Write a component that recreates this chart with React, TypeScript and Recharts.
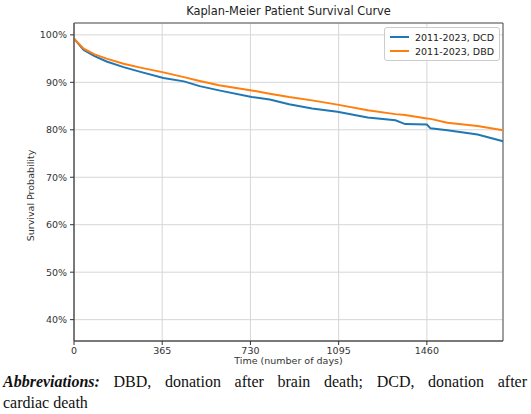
import { CartesianGrid, Line, LineChart, ReferenceArea, XAxis, YAxis } from "recharts";

// days since transplant
const days = [0, 40, 85, 135, 205, 275, 370, 455, 520, 600, 735, 810, 890, 985, 1090, 1215, 1330, 1370, 1460, 1475, 1545, 1670, 1775];
// survival %, DCD (blue)
const dcd = [99.2, 96.8, 95.5, 94.4, 93.2, 92.2, 90.9, 90.2, 89.2, 88.3, 86.9, 86.4, 85.4, 84.5, 83.8, 82.6, 82.0, 81.2, 81.1, 80.3, 79.9, 79.0, 77.6];
// survival %, DBD (orange)
const dbd = [99.2, 97.1, 95.9, 95.0, 93.9, 93.1, 92.1, 91.1, 90.3, 89.4, 88.3, 87.6, 86.9, 86.2, 85.3, 84.1, 83.3, 83.1, 82.4, 82.3, 81.5, 80.8, 79.9];

const xTicks = [0, 365, 730, 1095, 1460];
const yTicks = [40, 50, 60, 70, 80, 90, 100];
const seriesNames = ["2011-2023, DCD", "2011-2023, DBD"];
const seriesColors = ["#1f77b4", "#ff7f0e"];

const data = days.map((d, i) => ({ day: d, dcd: dcd[i], dbd: dbd[i] }));

const sans = "'DejaVu Sans', sans-serif";
const tick = { fontFamily: sans, fontSize: 9.5, fill: "#333" };

function KmLegend() {
  return (
    <div
      style={{
        position: "absolute",
        left: 384,
        top: 27,
        width: 104,
        border: "1px solid #ccc",
        borderRadius: 3,
        background: "rgba(255,255,255,0.85)",
        padding: "2px 5px",
        fontFamily: sans,
        fontSize: 9.5,
        color: "#222",
      }}
    >
      {seriesNames.map((name, i) => (
        <div key={name} style={{ display: "flex", alignItems: "center", height: 14, whiteSpace: "nowrap" }}>
          <span style={{ width: 20, height: 0, borderTop: `2px solid ${seriesColors[i]}`, marginRight: 6 }} />
          {name}
        </div>
      ))}
    </div>
  );
}

export default function App() {
  return (
    <div style={{ position: "absolute", left: 0, top: 0, width: 531, height: 414, background: "#fff" }}>
      <div
        style={{
          position: "absolute",
          left: 74,
          width: 429,
          top: 4,
          textAlign: "center",
          fontFamily: sans,
          fontSize: 11.4,
          color: "#222",
        }}
      >
        Kaplan-Meier Patient Survival Curve
      </div>

      <LineChart width={531} height={360} data={data} margin={{ top: 23, right: 28, bottom: 0, left: 0 }}>
        <CartesianGrid stroke="#d6d6d6" strokeWidth={1} />
        <XAxis
          dataKey="day"
          type="number"
          domain={[0, 1775]}
          ticks={xTicks}
          height={19}
          tick={tick}
          tickSize={4}
          tickMargin={2}
          tickLine={{ stroke: "#333" }}
          axisLine={{ stroke: "#555" }}
        />
        <YAxis
          type="number"
          domain={[35.5, 102.5]}
          ticks={yTicks}
          width={74}
          tick={tick}
          tickSize={4}
          tickMargin={3}
          tickFormatter={(v) => `${v}%`}
          tickLine={{ stroke: "#333" }}
          axisLine={{ stroke: "#555" }}
        />
        <ReferenceArea
          x1={0}
          x2={1775}
          y1={35.5}
          y2={102.5}
          fill="none"
          stroke="#555"
          strokeWidth={1}
          ifOverflow="visible"
        />
        <Line
          dataKey="dcd"
          name={seriesNames[0]}
          stroke={seriesColors[0]}
          strokeWidth={2}
          dot={false}
          type="linear"
          isAnimationActive={false}
        />
        <Line
          dataKey="dbd"
          name={seriesNames[1]}
          stroke={seriesColors[1]}
          strokeWidth={2}
          dot={false}
          type="linear"
          isAnimationActive={false}
        />
      </LineChart>

      <KmLegend />

      <div
        style={{
          position: "absolute",
          top: 50,
          left: 31,
          width: 0,
          height: 290,
          display: "flex",
          alignItems: "center",
          justifyContent: "center",
        }}
      >
        <div
          style={{
            transform: "rotate(-90deg)",
            whiteSpace: "nowrap",
            fontFamily: sans,
            fontSize: 9.5,
            color: "#333",
          }}
        >
          Survival Probability
        </div>
      </div>

      <div
        style={{
          position: "absolute",
          left: 74,
          width: 429,
          top: 355,
          textAlign: "center",
          fontFamily: sans,
          fontSize: 9.5,
          color: "#333",
        }}
      >
        Time (number of days)
      </div>

      <div
        style={{
          position: "absolute",
          left: 3,
          width: 524,
          top: 371,
          fontFamily: "'Liberation Serif', serif",
          fontSize: 16,
          lineHeight: "21px",
          color: "#111",
        }}
      >
        <div style={{ textAlign: "justify", textAlignLast: "justify" }}>
          <b>
            <i>Abbreviations:</i>
          </b>{" "}
          DBD, donation after brain death; DCD, donation after
        </div>
        <div>cardiac death</div>
      </div>
    </div>
  );
}
